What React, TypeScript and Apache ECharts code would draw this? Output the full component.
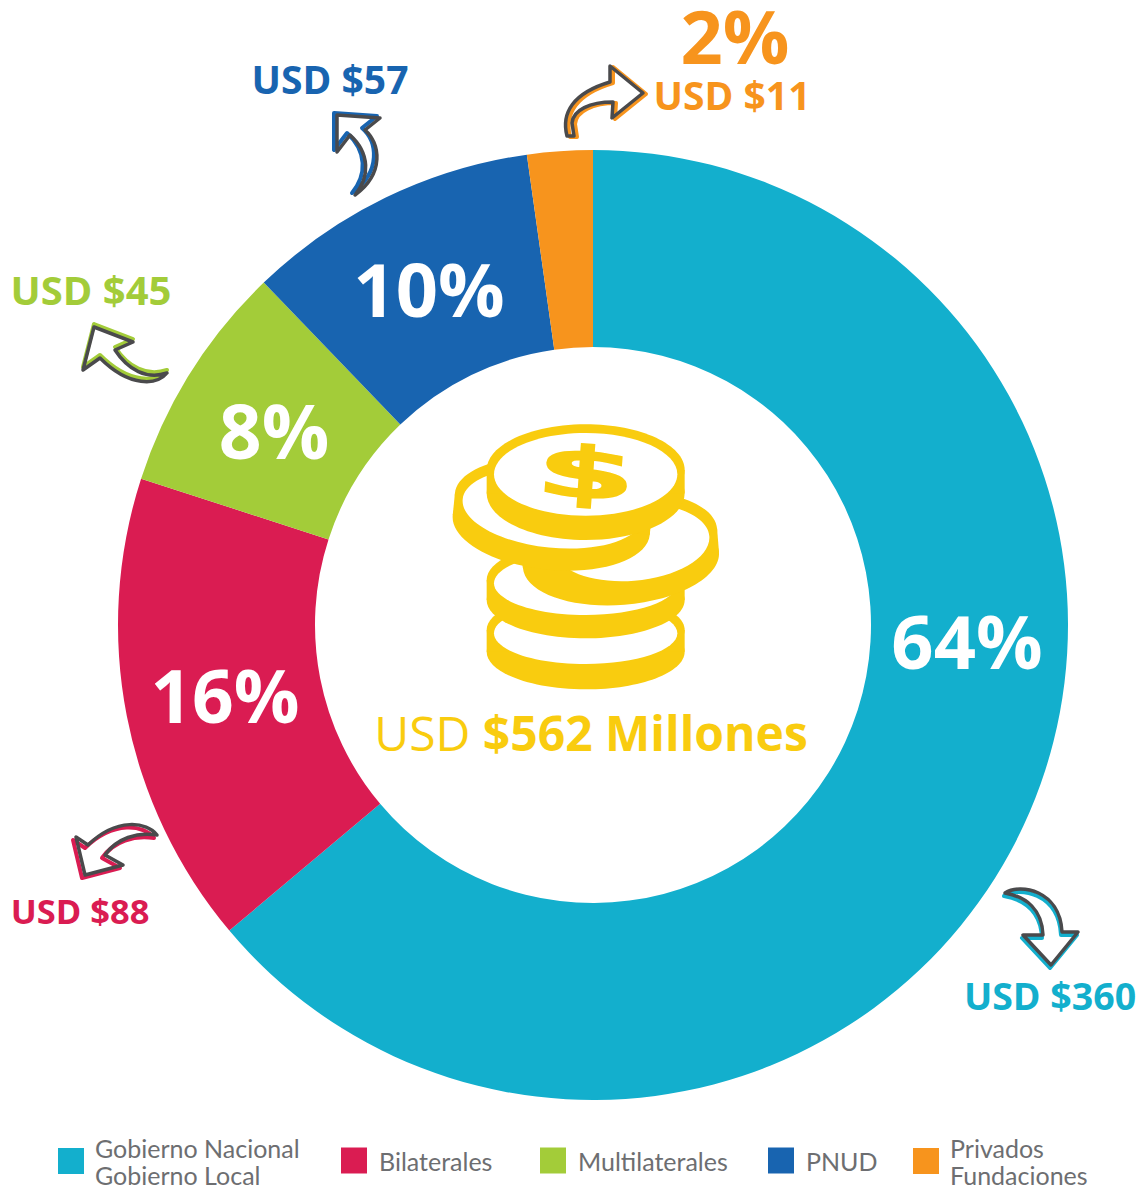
import React, { useEffect, useRef } from "react";
import * as echarts from "echarts";

const categories = ["Gobierno Nacional\nGobierno Local", "Bilaterales", "Multilaterales", "PNUD", "Privados\nFundaciones"];
// Slice sizes as drawn in the picture (USD millions)
const sliceValues = [359, 90.5, 44, 56, 12.5];
const colors = ["#13AFCD", "#DA1C52", "#A3CC39", "#1864B0", "#F7941D"];
const percentLabels = ["64%", "16%", "8%", "10%", "2%"];
const usdLabels = ["USD $360", "USD $88", "USD $45", "USD $57", "USD $11"];
const percentPos = [[967, 640], [225, 694], [274, 430], [429, 288], [735, 35]];
const percentSizes = [74, 73, 75, 74, 74];
const usdPos = [[1050, 995], [80, 910], [91, 289], [330, 78], [732, 94]];
const usdSizes = [37.5, 34.5, 40, 39, 39];
const legendLeft = [58, 341, 540, 768, 913];
const YELLOW = "#F9CC0F";
const DARK = "#4A4A4C";
const BOLD = "'Open Sans', sans-serif";

const arrowPaths = [
  "M1005 893 C1020 883 1060 890 1062 932 L1078 932 L1051 965 L1023 935 L1043 935 C1042 910 1027 897 1005 893 Z",
  "M157 835 C147 822 117 817 88 845 L76 837 L85 875 L123 865 L105 855 C117 838 137 832 157 835 Z",
  "M94 327 L133 342 L115 350 C128 370 147 380 167 373 C157 385 130 388 100 358 L83 370 Z",
  "M337 115 L380 118 L365 130 C380 143 385 173 355 195 C370 177 370 153 350 135 L337 152 Z",
  "M567 136 C561 113 573 93 610 82 L610 66 L643 93 L612 118 L613 102 C590 102 573 110 572 123 L574 136 Z",
];
const arrowOffsets = [[-1, 3], [-3, 3], [0, -3], [-3, -2], [3, 1]];
arrowPaths.forEach((d, i) => echarts.graphic.registerShape("arrow" + i, echarts.graphic.extendPath(d, {})));

const zx = (v: number) => 440 + v / 3;
const zy = (v: number) => 410 + v / 3;
const Z = 20;

function coin(cx: number, topY: number, botY: number, rx: number, topRy: number, botRy: number, wy: number, wrx: number, wry: number, rot = 0, wdx = 0) {
  const px = zx(cx);
  const py = zy((topY + botY) / 2);
  const el = (ex: number, cy: number, a: number, b: number, fill: string) => ({
    type: "ellipse", z: Z, shape: { cx: ex / 3, cy: (cy - (topY + botY) / 2) / 3, rx: a / 3, ry: b / 3 }, style: { fill },
  });
  return {
    type: "group", x: px, y: py, rotation: rot, z: Z,
    children: [
      el(0, topY, rx, topRy, YELLOW),
      el(0, botY, rx, botRy, YELLOW),
      { type: "rect", z: Z, shape: { x: -rx / 3, y: (topY - botY) / 6, width: (2 * rx) / 3, height: (botY - topY) / 3 }, style: { fill: YELLOW } },
      el(wdx, wy, wrx, wry, "#FFFFFF"),
    ],
  };
}

const text = (s: string, x: number, y: number, size: number, fill: string, weight: any = 700) => ({
  type: "text", x, y, z: Z + 5,
  style: { text: s, fill, font: `${weight} ${size}px ${BOLD}`, lineHeight: size * 0.8, align: "center", verticalAlign: "middle" },
});

export default function App() {
  const ref = useRef<HTMLDivElement>(null);
  useEffect(() => {
    const chart = echarts.init(ref.current!, null, { renderer: "svg" });
    const graphic: any[] = [];
    arrowPaths.forEach((_, i) => {
      graphic.push({ type: "arrow" + i, x: arrowOffsets[i][0], y: arrowOffsets[i][1], z: Z, style: { fill: "none", stroke: colors[i], lineWidth: 4, lineJoin: "round" } });
      graphic.push({ type: "arrow" + i, x: 0, y: 0, z: Z + 1, style: { fill: "none", stroke: DARK, lineWidth: 3.5, lineJoin: "round" } });
    });
    graphic.push(coin(437, 660, 725, 297, 110, 113, 670, 275, 92));
    graphic.push(coin(437, 510, 570, 297, 115, 115, 520, 275, 95));
    graphic.push(coin(540, 380, 450, 295, 135, 135, 400, 235, 115, 0.08, 35));
    graphic.push(coin(337, 280, 345, 297, 135, 135, 295, 272, 118, -0.1));
    graphic.push(coin(437, 180, 250, 297, 137, 140, 193, 275, 124));
    graphic.push({
      type: "text", x: 586, y: 473, z: Z + 5, rotation: -0.07, scaleX: 2.05, scaleY: 1,
      style: { text: "$", fill: YELLOW, stroke: YELLOW, lineWidth: 1.5, font: "700 70px 'DejaVu Sans', sans-serif", align: "center", verticalAlign: "middle" },
    });
    graphic.push({
      type: "text", x: 591, y: 732, z: Z + 5,
      style: {
        text: "{a|USD }{b|$562 Millones}", align: "center", verticalAlign: "middle",
        rich: {
          a: { fill: YELLOW, font: `400 48px ${BOLD}` },
          b: { fill: YELLOW, font: `700 48px ${BOLD}` },
        },
      },
    });
    percentLabels.forEach((s, i) => {
      graphic.push(text(s, percentPos[i][0], percentPos[i][1], percentSizes[i], i === 4 ? colors[i] : "#FFFFFF"));
      graphic.push(text(usdLabels[i], usdPos[i][0], usdPos[i][1], usdSizes[i], colors[i]));
    });
    chart.setOption({
      animation: false,
      backgroundColor: "#FFFFFF",
      color: colors,
      legend: categories.map((c, i) => {
        const two = c.includes("\n");
        return {
          left: legendLeft[i] - 5,
          top: two ? 1129 : 1138,
          itemWidth: 26, itemHeight: 26, icon: "rect", selectedMode: false,
          data: [c],
          textStyle: { color: "#6D6E71", fontFamily: "Lato, sans-serif", fontSize: 25, lineHeight: 27, padding: two ? [0, 0, 0, 6] : [8, 0, 0, 7] },
        };
      }),
      series: [{
        type: "pie", center: [593, 625], radius: [278, 475], startAngle: 90, clockwise: true,
        silent: true, label: { show: false }, labelLine: { show: false },
        itemStyle: { borderWidth: 0 },
        data: categories.map((name, i) => ({ name, value: sliceValues[i] })),
      }],
      graphic,
    });
    return () => chart.dispose();
  }, []);
  return <div ref={ref} style={{ position: "absolute", left: 0, top: 0, width: 1141, height: 1186 }} />;
}
